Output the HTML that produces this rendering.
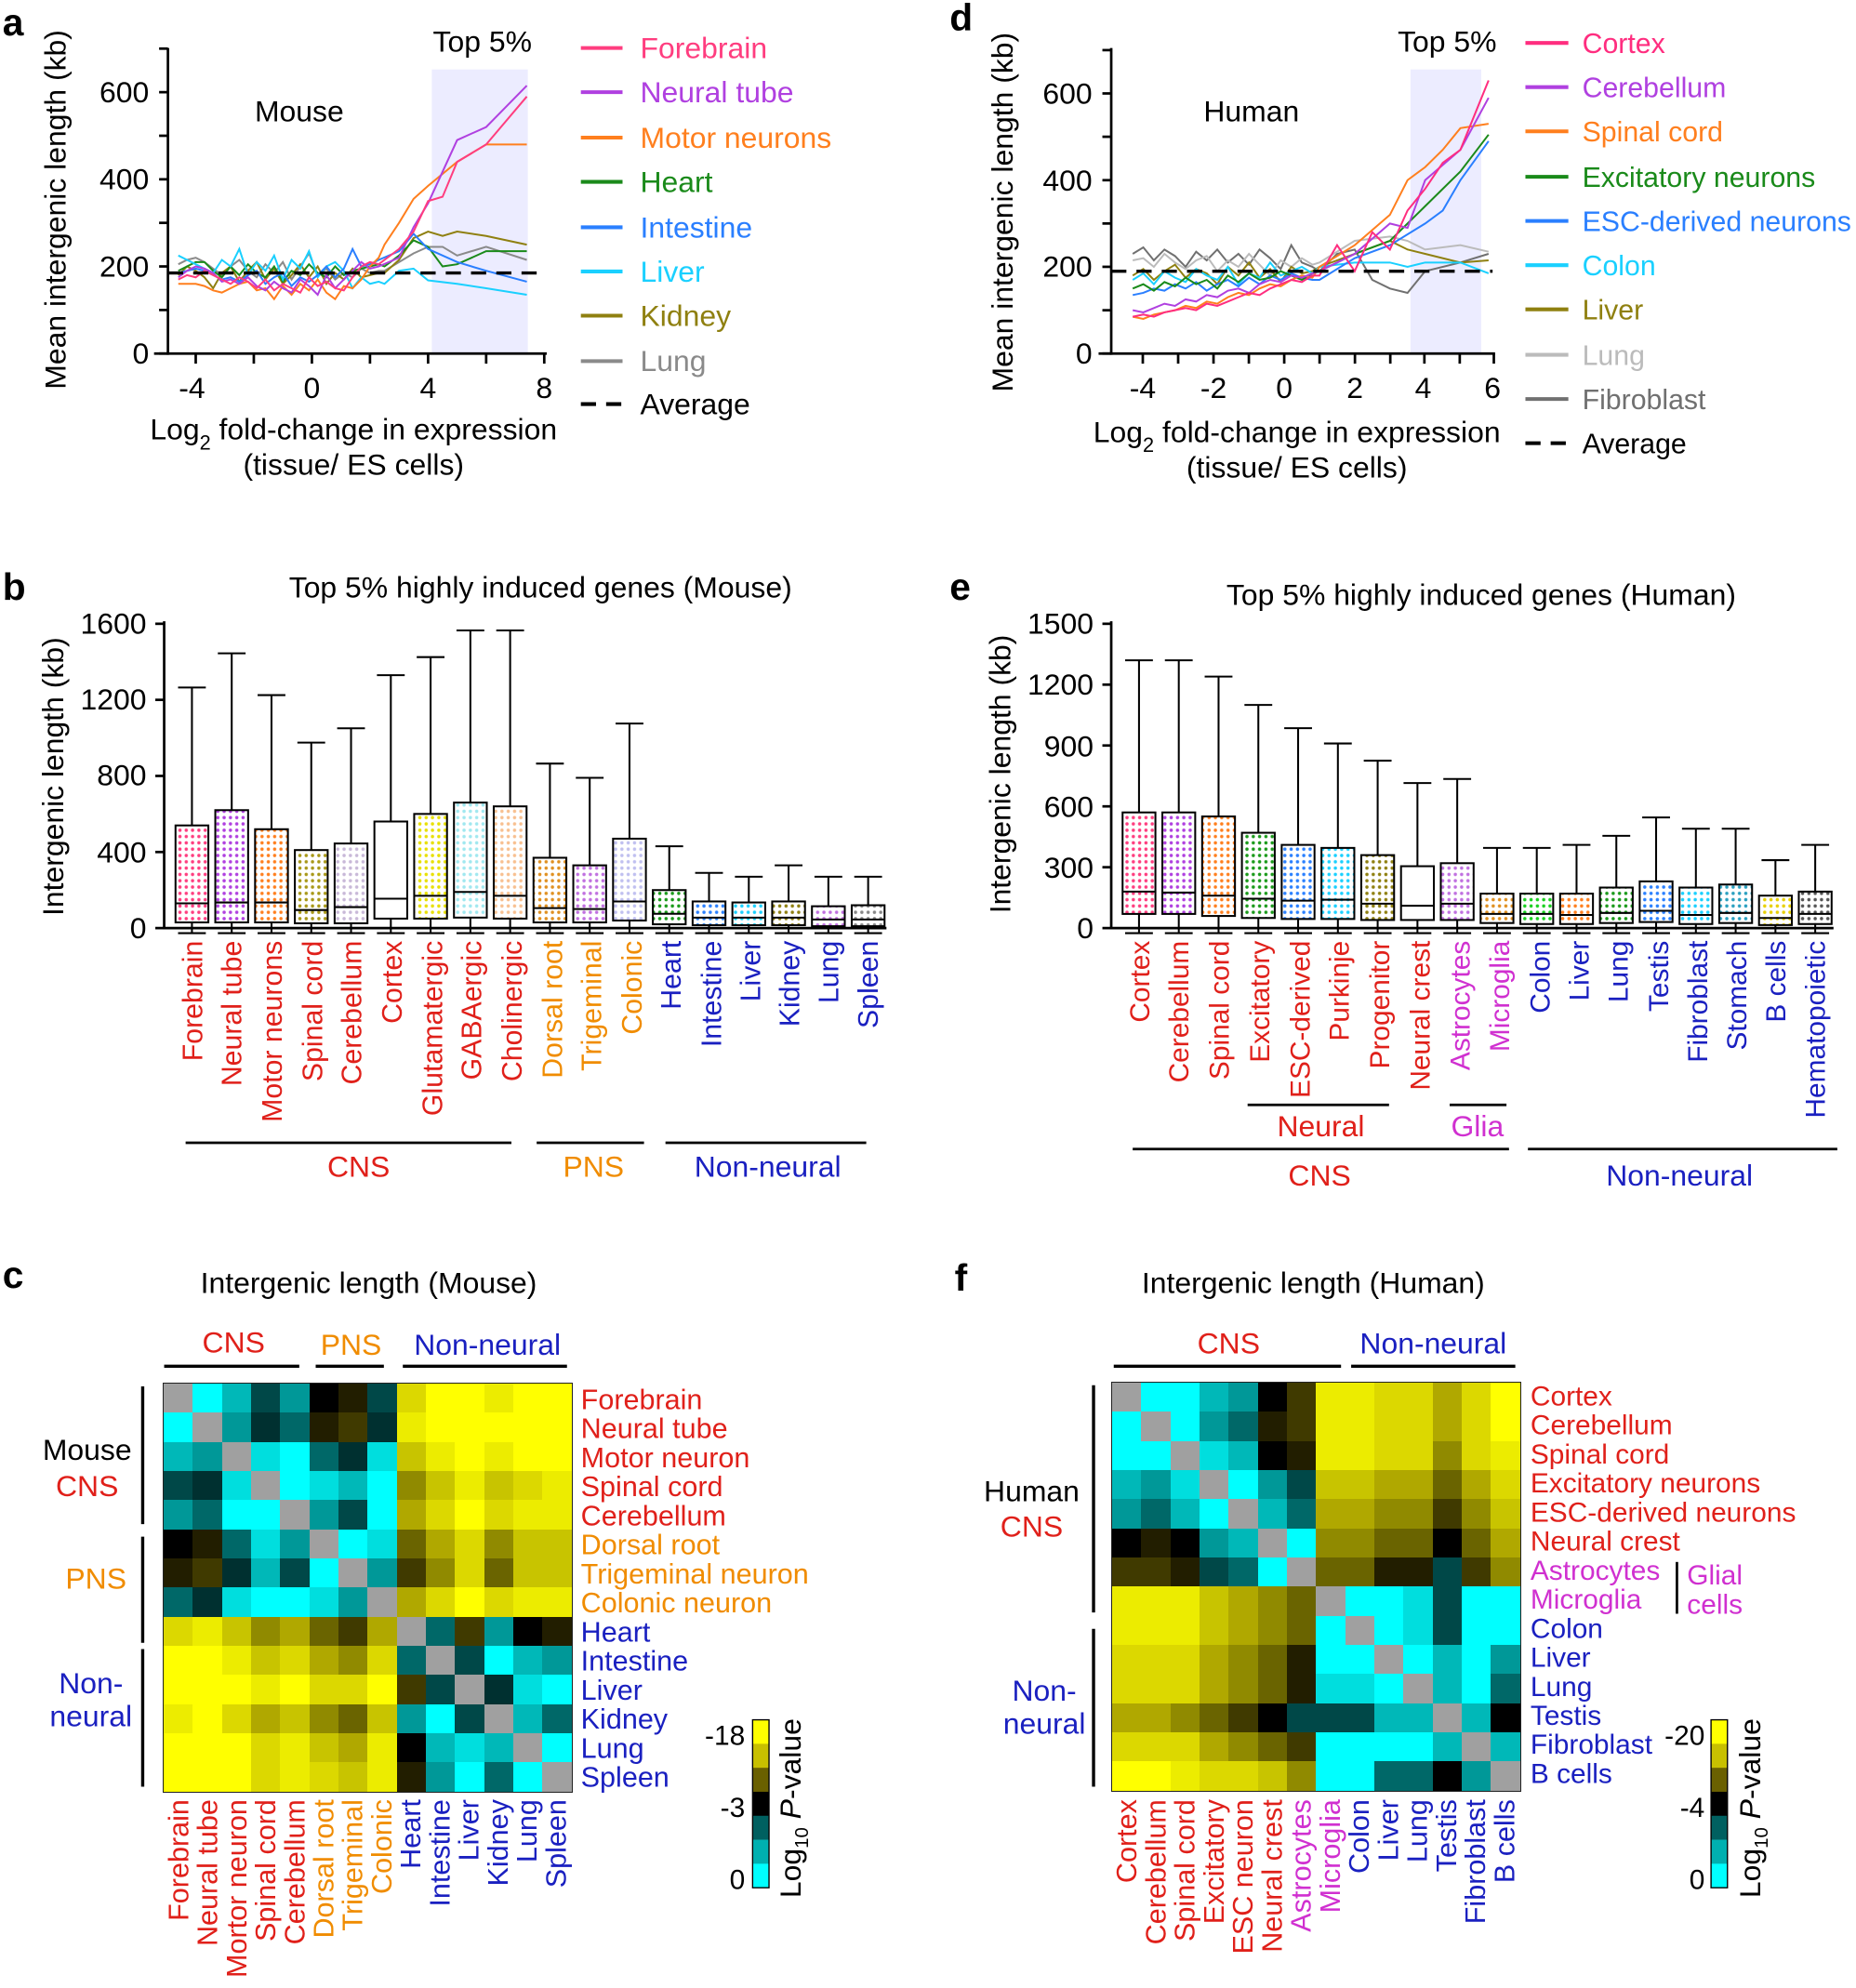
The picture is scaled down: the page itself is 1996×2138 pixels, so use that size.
<!DOCTYPE html>
<html><head><meta charset="utf-8"><style>
html,body{margin:0;padding:0;background:#fff}
body{position:relative;width:1996px;height:2138px;overflow:hidden}
svg{display:block;position:absolute;left:0;top:0}
text{font-family:"Liberation Sans",Arial,sans-serif}
.hm{position:absolute;display:grid;grid-template-columns:repeat(14,31.33px);grid-auto-rows:31.33px;outline:1.5px solid #222}
.hm b{display:block}
.c{background:#00ffff}.p{background:#00dede}.q{background:#00b8b8}.r{background:#009898}.s{background:#006868}.t{background:#004848}.u{background:#003030}.k{background:#000}.v{background:#221e00}.w{background:#403a00}.x{background:#6a6400}.A{background:#908a00}.B{background:#b0a800}.C{background:#c8c400}.D{background:#dcd800}.E{background:#ecec00}.Y{background:#ffff00}.g{background:#a0a0a0}
</style></head><body>
<svg xmlns="http://www.w3.org/2000/svg" width="1996" height="2138" viewBox="0 0 1469.8 1574.4" preserveAspectRatio="none">
<defs>
<pattern id="P1" width="5" height="5" patternUnits="userSpaceOnUse"><rect width="5" height="5" fill="#fff"/><circle cx="2.5" cy="2.5" r="1.3" fill="#ff3d7f"/></pattern>
<pattern id="P2" width="5" height="5" patternUnits="userSpaceOnUse"><rect width="5" height="5" fill="#fff"/><circle cx="2.5" cy="2.5" r="1.3" fill="#b040e0"/></pattern>
<pattern id="P3" width="5" height="5" patternUnits="userSpaceOnUse"><rect width="5" height="5" fill="#fff"/><circle cx="2.5" cy="2.5" r="1.3" fill="#ff7f1e"/></pattern>
<pattern id="P4" width="5" height="5" patternUnits="userSpaceOnUse"><rect width="5" height="5" fill="#fff"/><circle cx="2.5" cy="2.5" r="1.3" fill="#a89818"/></pattern>
<pattern id="P5" width="5" height="5" patternUnits="userSpaceOnUse"><rect width="5" height="5" fill="#fff"/><circle cx="2.5" cy="2.5" r="1.3" fill="#c8b8d8"/></pattern>
<pattern id="P7" width="5" height="5" patternUnits="userSpaceOnUse"><rect width="5" height="5" fill="#fff"/><circle cx="2.5" cy="2.5" r="1.3" fill="#e8e000"/></pattern>
<pattern id="P8" width="5" height="5" patternUnits="userSpaceOnUse"><rect width="5" height="5" fill="#fff"/><circle cx="2.5" cy="2.5" r="1.3" fill="#a0e8f0"/></pattern>
<pattern id="P9" width="5" height="5" patternUnits="userSpaceOnUse"><rect width="5" height="5" fill="#fff"/><circle cx="2.5" cy="2.5" r="1.3" fill="#f8c090"/></pattern>
<pattern id="P10" width="5" height="5" patternUnits="userSpaceOnUse"><rect width="5" height="5" fill="#fff"/><circle cx="2.5" cy="2.5" r="1.3" fill="#e09020"/></pattern>
<pattern id="P11" width="5" height="5" patternUnits="userSpaceOnUse"><rect width="5" height="5" fill="#fff"/><circle cx="2.5" cy="2.5" r="1.3" fill="#c070e0"/></pattern>
<pattern id="P12" width="5" height="5" patternUnits="userSpaceOnUse"><rect width="5" height="5" fill="#fff"/><circle cx="2.5" cy="2.5" r="1.3" fill="#c0c0f0"/></pattern>
<pattern id="P13" width="5" height="5" patternUnits="userSpaceOnUse"><rect width="5" height="5" fill="#fff"/><circle cx="2.5" cy="2.5" r="1.3" fill="#1a9a1a"/></pattern>
<pattern id="P14" width="5" height="5" patternUnits="userSpaceOnUse"><rect width="5" height="5" fill="#fff"/><circle cx="2.5" cy="2.5" r="1.3" fill="#2a80ff"/></pattern>
<pattern id="P15" width="5" height="5" patternUnits="userSpaceOnUse"><rect width="5" height="5" fill="#fff"/><circle cx="2.5" cy="2.5" r="1.3" fill="#1ad0ff"/></pattern>
<pattern id="P16" width="5" height="5" patternUnits="userSpaceOnUse"><rect width="5" height="5" fill="#fff"/><circle cx="2.5" cy="2.5" r="1.3" fill="#8f8010"/></pattern>
<pattern id="P18" width="5" height="5" patternUnits="userSpaceOnUse"><rect width="5" height="5" fill="#fff"/><circle cx="2.5" cy="2.5" r="1.3" fill="#888888"/></pattern>
<pattern id="P19" width="5" height="5" patternUnits="userSpaceOnUse"><rect width="5" height="5" fill="#fff"/><circle cx="2.5" cy="2.5" r="1.3" fill="#1ad020"/></pattern>
<pattern id="P20" width="5" height="5" patternUnits="userSpaceOnUse"><rect width="5" height="5" fill="#fff"/><circle cx="2.5" cy="2.5" r="1.3" fill="#2aa0c0"/></pattern>
<pattern id="P21" width="5" height="5" patternUnits="userSpaceOnUse"><rect width="5" height="5" fill="#fff"/><circle cx="2.5" cy="2.5" r="1.3" fill="#e8d000"/></pattern>
<pattern id="P22" width="5" height="5" patternUnits="userSpaceOnUse"><rect width="5" height="5" fill="#fff"/><circle cx="2.5" cy="2.5" r="1.3" fill="#555555"/></pattern>
</defs>

<rect x="342" y="55" width="76" height="225" fill="#ececff"/>
<rect x="1117" y="55" width="56" height="225" fill="#ececff"/>

<g transform="translate(247,280) scale(23,-0.345)" fill="none" stroke-width="2">
<polyline vector-effect="non-scaling-stroke" stroke="#8a8a8a" points="-4.6,205 -4.3,215 -4,220 -3.7,210 -3.4,195 -3.1,180 -2.8,200 -2.5,215 -2.2,190 -1.9,175 -1.6,205 -1.3,185 -1,210 -0.7,170 -0.4,200 -0.1,230 0.2,180 0.5,195 0.8,170 1.1,185 1.4,175 1.7,195 2,185 2.3,190 2.5,190 3,210 3.5,230 4,245 4.5,245 5,225 6,245 7.4,215"/>
<polyline vector-effect="non-scaling-stroke" stroke="#8f8010" points="-4.6,180 -4.3,200 -4,190 -3.7,175 -3.4,150 -3.1,185 -2.8,200 -2.5,165 -2.2,190 -1.9,210 -1.6,170 -1.3,195 -1,160 -0.7,180 -0.4,205 -0.1,175 0.2,200 0.5,160 0.8,185 1.1,170 1.4,195 1.7,175 2,180 2.3,185 2.5,185 3,215 3.5,265 4,280 4.5,270 5,280 6,270 7.4,250"/>
<polyline vector-effect="non-scaling-stroke" stroke="#1a8a1a" points="-4.6,190 -4.3,200 -4,210 -3.7,210 -3.4,190 -3.1,175 -2.8,200 -2.5,180 -2.2,205 -1.9,185 -1.6,175 -1.3,200 -1,165 -0.7,190 -0.4,180 -0.1,205 0.2,185 0.5,175 0.8,200 1.1,180 1.4,190 1.7,195 2,200 2.3,205 2.5,200 3,225 3.5,260 4,245 4.5,200 5,205 6,235 7.4,235"/>
<polyline vector-effect="non-scaling-stroke" stroke="#1ad0ff" points="-4.6,225 -4.3,215 -4,205 -3.7,195 -3.4,185 -3.1,215 -2.8,200 -2.5,240 -2.2,180 -1.9,210 -1.6,190 -1.3,225 -1,170 -0.7,215 -0.4,195 -0.1,235 0.2,175 0.5,200 0.8,210 1.1,190 1.4,150 1.7,175 2,160 2.3,165 2.5,160 3,190 3.5,195 4,168 5,160 6,150 7.4,135"/>
<polyline vector-effect="non-scaling-stroke" stroke="#2a7fff" points="-4.6,185 -4.3,190 -4,195 -3.7,190 -3.4,180 -3.1,170 -2.8,175 -2.5,165 -2.2,180 -1.9,190 -1.6,160 -1.3,175 -1,185 -0.7,155 -0.4,175 -0.1,165 0.2,180 0.5,200 0.8,175 1.1,195 1.4,240 1.7,200 2,205 2.3,215 3,235 3.5,275 4,240 5,210 6,190 7.4,165"/>
<polyline vector-effect="non-scaling-stroke" stroke="#ff7f1e" points="-4.6,160 -4.3,160 -4,160 -3.7,155 -3.4,145 -3.1,140 -2.8,150 -2.5,160 -2.2,165 -1.9,145 -1.6,150 -1.3,125 -1,155 -0.7,135 -0.4,160 -0.1,145 0.2,170 0.5,140 0.8,125 1.1,155 1.4,150 1.7,170 2,200 2.3,220 2.5,250 3,300 3.5,355 4,385 5,440 6,480 7.4,480"/>
<polyline vector-effect="non-scaling-stroke" stroke="#b040e0" points="-4.6,175 -4.3,190 -4,200 -3.7,195 -3.4,185 -3.1,165 -2.8,170 -2.5,160 -2.2,175 -1.9,155 -1.6,145 -1.3,165 -1,150 -0.7,140 -0.4,170 -0.1,155 0.2,135 0.5,180 0.8,150 1.1,170 1.4,190 1.7,210 2,195 2.3,200 3,220 3.5,290 4,345 5,490 6,520 7.4,615"/>
<polyline vector-effect="non-scaling-stroke" stroke="#ff3d7f" points="-4.6,170 -4.3,180 -4,175 -3.7,190 -3.4,180 -3.1,170 -2.8,160 -2.5,175 -2.2,165 -1.9,150 -1.6,170 -1.3,145 -1,160 -0.7,150 -0.4,140 -0.1,175 0.2,155 0.5,165 0.8,150 1.1,145 1.4,175 1.7,200 2,210 2.3,205 3,240 3.5,280 4,350 4.5,360 5,440 6,480 7.4,590"/>
</g>
<line x1="133" y1="216.2" x2="433" y2="216.2" stroke="#000" stroke-width="2.5" stroke-dasharray="12,8"/>

<g transform="translate(1017,280) scale(27.9,-0.3433)" fill="none" stroke-width="2">
<polyline vector-effect="non-scaling-stroke" stroke="#707070" points="-4.3,230 -4,245 -3.7,215 -3.4,240 -3.1,225 -2.8,200 -2.5,235 -2.2,215 -1.9,240 -1.6,210 -1.3,230 -1,205 -0.7,240 -0.4,220 -0.1,195 0.2,250 0.5,210 0.8,200 1,190 1.5,230 2,240 2.5,170 3,150 3.5,140 4,190 5,210 5.8,230"/>
<polyline vector-effect="non-scaling-stroke" stroke="#bbbbbb" points="-4.3,215 -4,220 -3.7,200 -3.4,230 -3.1,210 -2.8,195 -2.5,215 -2.2,225 -1.9,190 -1.6,215 -1.3,200 -1,230 -0.7,205 -0.4,180 -0.1,215 0.2,200 0.5,220 0.8,205 1,210 2,260 3,270 3.5,260 4,240 5,250 5.8,235"/>
<polyline vector-effect="non-scaling-stroke" stroke="#8f8010" points="-4.3,180 -4,195 -3.7,170 -3.4,190 -3.1,205 -2.8,175 -2.5,195 -2.2,185 -1.9,160 -1.6,200 -1.3,180 -1,210 -0.7,175 -0.4,195 -0.1,165 0.2,200 0.5,185 0.8,190 1,200 2,230 3,260 3.5,240 4,230 5,210 5.8,215"/>
<polyline vector-effect="non-scaling-stroke" stroke="#1ad0ff" points="-4.3,170 -4,185 -3.7,160 -3.4,190 -3.1,175 -2.8,165 -2.5,195 -2.2,180 -1.9,170 -1.6,200 -1.3,160 -1,185 -0.7,175 -0.4,210 -0.1,180 0.2,190 0.5,200 0.8,185 1,200 2,210 3,210 3.5,200 4,210 5,210 5.8,185"/>
<polyline vector-effect="non-scaling-stroke" stroke="#2a7fff" points="-4.3,135 -4,140 -3.7,150 -3.4,145 -3.1,160 -2.8,150 -2.5,165 -2.2,145 -1.9,160 -1.6,170 -1.3,155 -1,175 -0.7,160 -0.4,180 -0.1,170 0.2,185 0.5,175 0.8,170 1,170 2,220 3,250 4,300 4.5,330 5,400 5.8,490"/>
<polyline vector-effect="non-scaling-stroke" stroke="#1a8a1a" points="-4.3,150 -4,160 -3.7,145 -3.4,165 -3.1,155 -2.8,175 -2.5,160 -2.2,170 -1.9,150 -1.6,180 -1.3,165 -1,185 -0.7,170 -0.4,175 -0.1,190 0.2,180 0.5,170 0.8,185 1,190 2,230 3,260 3.5,300 4,340 5,420 5.8,505"/>
<polyline vector-effect="non-scaling-stroke" stroke="#ff7f1e" points="-4.3,85 -4,80 -3.7,90 -3.4,95 -3.1,100 -2.8,110 -2.5,105 -2.2,120 -1.9,115 -1.6,130 -1.3,140 -1,135 -0.7,150 -0.4,160 -0.1,155 0.2,170 0.5,180 0.8,175 1,200 2,250 3,320 3.5,400 4,430 4.5,470 5,520 5.8,530"/>
<polyline vector-effect="non-scaling-stroke" stroke="#b040e0" points="-4.3,100 -4,95 -3.7,105 -3.4,115 -3.1,110 -2.8,125 -2.5,120 -2.2,135 -1.9,130 -1.6,145 -1.3,150 -1,140 -0.7,160 -0.4,170 -0.1,165 0.2,180 0.5,175 0.8,185 1,190 2,230 3,300 3.5,290 4,400 5,470 5.8,590"/>
<polyline vector-effect="non-scaling-stroke" stroke="#ff2d7f" points="-4.3,85 -4,90 -3.7,85 -3.4,95 -3.1,100 -2.8,105 -2.5,100 -2.2,115 -1.9,110 -1.6,120 -1.3,130 -1,140 -0.7,135 -0.4,150 -0.1,160 0.2,170 0.5,165 0.8,180 1,180 1.5,250 2,190 2.5,280 3,240 3.5,330 4,380 4.5,440 5,470 5.8,630"/>
</g>
<line x1="880" y1="214.8" x2="1182" y2="214.8" stroke="#000" stroke-width="2.5" stroke-dasharray="12,8"/>

<g stroke="#000" stroke-width="1.5">
<rect x="139" y="653.7" width="26" height="76.8" fill="url(#P1)"/><path d="M152 544.5V653.7M141 544.5H163M152 730.5V739M141 739H163M139 715.4H165"/>
<rect x="170.5" y="641.6" width="26" height="88.9" fill="url(#P2)"/><path d="M183.5 517.4V641.6M172.5 517.4H194.5M183.5 730.5V739M172.5 739H194.5M170.5 714.7H196.5"/>
<rect x="202" y="656.7" width="26" height="73.8" fill="url(#P3)"/><path d="M215 550.5V656.7M204 550.5H226M215 730.5V739M204 739H226M202 714.7H228"/>
<rect x="233.5" y="673.2" width="26" height="58" fill="url(#P4)"/><path d="M246.5 588.1V673.2M235.5 588.1H257.5M246.5 731.2V739M235.5 739H257.5M233.5 720.7H259.5"/>
<rect x="265" y="668" width="26" height="63.2" fill="url(#P5)"/><path d="M278 576.8V668M267 576.8H289M278 731.2V739M267 739H289M265 718.4H291"/>
<rect x="296.5" y="650.6" width="26" height="76.9" fill="#fff"/><path d="M309.5 534.7V650.6M298.5 534.7H320.5M309.5 727.5V739M298.5 739H320.5M296.5 711.7H322.5"/>
<rect x="328" y="644.6" width="26" height="82.9" fill="url(#P7)"/><path d="M341 520.4V644.6M330 520.4H352M341 727.5V739M330 739H352M328 709.4H354"/>
<rect x="359.5" y="635.6" width="26" height="91.1" fill="url(#P8)"/><path d="M372.5 499.3V635.6M361.5 499.3H383.5M372.5 726.7V739M361.5 739H383.5M359.5 706.4H385.5"/>
<rect x="391" y="638.6" width="26" height="88.9" fill="url(#P9)"/><path d="M404 499.3V638.6M393 499.3H415M404 727.5V739M393 739H415M391 709.4H417"/>
<rect x="422.5" y="679.3" width="26" height="51.2" fill="url(#P10)"/><path d="M435.5 604.7V679.3M424.5 604.7H446.5M435.5 730.5V739M424.5 739H446.5M422.5 719.2H448.5"/>
<rect x="454" y="685.3" width="26" height="45.2" fill="url(#P11)"/><path d="M467 616V685.3M456 616H478M467 730.5V739M456 739H478M454 719.9H480"/>
<rect x="485.5" y="664.2" width="26" height="64.8" fill="url(#P12)"/><path d="M498.5 573V664.2M487.5 573H509.5M498.5 729V739M487.5 739H509.5M485.5 713.9H511.5"/>
<rect x="517" y="704.9" width="26" height="27.1" fill="url(#P13)"/><path d="M530 670.2V704.9M519 670.2H541M530 732V739M519 739H541M517 723.7H543"/>
<rect x="548.5" y="713.9" width="26" height="18.8" fill="url(#P14)"/><path d="M561.5 691.3V713.9M550.5 691.3H572.5M561.5 732.7V739M550.5 739H572.5M548.5 726.7H574.5"/>
<rect x="580" y="714.7" width="26" height="18" fill="url(#P15)"/><path d="M593 694.3V714.7M582 694.3H604M593 732.7V739M582 739H604M580 726.7H606"/>
<rect x="611.5" y="713.9" width="26" height="18.8" fill="url(#P16)"/><path d="M624.5 685.3V713.9M613.5 685.3H635.5M624.5 732.7V739M613.5 739H635.5M611.5 726.7H637.5"/>
<rect x="643" y="717.7" width="26" height="15.8" fill="url(#P11)"/><path d="M656 694.3V717.7M645 694.3H667M656 733.5V739M645 739H667M643 728.2H669"/>
<rect x="674.5" y="716.9" width="26" height="16.6" fill="url(#P18)"/><path d="M687.5 694.3V716.9M676.5 694.3H698.5M687.5 733.5V739M676.5 739H698.5M674.5 728.2H700.5"/>
</g>
<g stroke="#000" stroke-width="1.5">
<rect x="889" y="643.4" width="26" height="80.4" fill="url(#P1)"/><path d="M902 522.9V643.4M891 522.9H913M902 723.8V739M891 739H913M889 706.1H915"/>
<rect x="920.5" y="643.4" width="26" height="80.4" fill="url(#P2)"/><path d="M933.5 522.9V643.4M922.5 522.9H944.5M933.5 723.8V739M922.5 739H944.5M920.5 706.9H946.5"/>
<rect x="952" y="646.6" width="26" height="78.8" fill="url(#P3)"/><path d="M965 535.8V646.6M954 535.8H976M965 725.4V739M954 739H976M952 709.3H978"/>
<rect x="983.5" y="659.5" width="26" height="67.5" fill="url(#P13)"/><path d="M996.5 558.3V659.5M985.5 558.3H1007.5M996.5 727V739M985.5 739H1007.5M983.5 711.7H1009.5"/>
<rect x="1015" y="669.1" width="26" height="58.7" fill="url(#P14)"/><path d="M1028 576.7V669.1M1017 576.7H1039M1028 727.8V739M1017 739H1039M1015 713.3H1041"/>
<rect x="1046.5" y="671.5" width="26" height="56.3" fill="url(#P15)"/><path d="M1059.5 588.8V671.5M1048.5 588.8H1070.5M1059.5 727.8V739M1048.5 739H1070.5M1046.5 712.5H1072.5"/>
<rect x="1078" y="677.2" width="26" height="51.4" fill="url(#P16)"/><path d="M1091 602.4V677.2M1080 602.4H1102M1091 728.6V739M1080 739H1102M1078 715.7H1104"/>
<rect x="1109.5" y="686" width="26" height="42.6" fill="#fff"/><path d="M1122.5 620.1V686M1111.5 620.1H1133.5M1122.5 728.6V739M1111.5 739H1133.5M1109.5 717.3H1135.5"/>
<rect x="1141" y="683.6" width="26" height="45" fill="url(#P11)"/><path d="M1154 616.9V683.6M1143 616.9H1165M1154 728.6V739M1143 739H1165M1141 715.7H1167"/>
<rect x="1172.5" y="707.7" width="26" height="23.3" fill="url(#P10)"/><path d="M1185.5 671.5V707.7M1174.5 671.5H1196.5M1185.5 731V739M1174.5 739H1196.5M1172.5 723.8H1198.5"/>
<rect x="1204" y="707.7" width="26" height="24.1" fill="url(#P19)"/><path d="M1217 671.5V707.7M1206 671.5H1228M1217 731.8V739M1206 739H1228M1204 723.8H1230"/>
<rect x="1235.5" y="707.7" width="26" height="24.1" fill="url(#P3)"/><path d="M1248.5 669.1V707.7M1237.5 669.1H1259.5M1248.5 731.8V739M1237.5 739H1259.5M1235.5 724.6H1261.5"/>
<rect x="1267" y="702.9" width="26" height="28.1" fill="url(#P13)"/><path d="M1280 661.9V702.9M1269 661.9H1291M1280 731V739M1269 739H1291M1267 723H1293"/>
<rect x="1298.5" y="698" width="26" height="32.2" fill="url(#P14)"/><path d="M1311.5 647.4V698M1300.5 647.4H1322.5M1311.5 730.2V739M1300.5 739H1322.5M1298.5 721.3H1324.5"/>
<rect x="1330" y="702.9" width="26" height="28.9" fill="url(#P15)"/><path d="M1343 656.3V702.9M1332 656.3H1354M1343 731.8V739M1332 739H1354M1330 724.6H1356"/>
<rect x="1361.5" y="700.5" width="26" height="30.5" fill="url(#P20)"/><path d="M1374.5 656.3V700.5M1363.5 656.3H1385.5M1374.5 731V739M1363.5 739H1385.5M1361.5 723H1387.5"/>
<rect x="1393" y="709.3" width="26" height="23.3" fill="url(#P21)"/><path d="M1406 681.2V709.3M1395 681.2H1417M1406 732.6V739M1395 739H1417M1393 727H1419"/>
<rect x="1424.5" y="706.1" width="26" height="25.7" fill="url(#P22)"/><path d="M1437.5 669.1V706.1M1426.5 669.1H1448.5M1437.5 731.8V739M1426.5 739H1448.5M1424.5 723.8H1450.5"/>
</g>

<g>
<rect x="596" y="1362" width="13" height="19.2" fill="#ffff00"/><rect x="596" y="1381" width="13" height="19.2" fill="#c8c000"/><rect x="596" y="1400" width="13" height="19.2" fill="#6a6000"/><rect x="596" y="1419" width="13" height="19.2" fill="#000"/><rect x="596" y="1438" width="13" height="19.2" fill="#006060"/><rect x="596" y="1457" width="13" height="19.2" fill="#00b0b0"/><rect x="596" y="1476" width="13" height="19" fill="#00ffff"/>
<rect x="596" y="1362" width="13" height="133" fill="none" stroke="#000"/>
<rect x="1355" y="1362" width="13" height="19.2" fill="#ffff00"/><rect x="1355" y="1381" width="13" height="19.2" fill="#c8c000"/><rect x="1355" y="1400" width="13" height="19.2" fill="#6a6000"/><rect x="1355" y="1419" width="13" height="19.2" fill="#000"/><rect x="1355" y="1438" width="13" height="19.2" fill="#006060"/><rect x="1355" y="1457" width="13" height="19.2" fill="#00b0b0"/><rect x="1355" y="1476" width="13" height="19" fill="#00ffff"/>
<rect x="1355" y="1362" width="13" height="133" fill="none" stroke="#000"/>
</g>

<g font-size="23.5" fill="#000">
<text x="2" y="28" font-size="30" font-weight="bold">a</text>
<text x="752" y="24" font-size="30" font-weight="bold">d</text>
<text x="2" y="475" font-size="30" font-weight="bold">b</text>
<text x="752" y="475" font-size="30" font-weight="bold">e</text>
<text x="2" y="1020" font-size="30" font-weight="bold">c</text>
<text x="756" y="1022" font-size="30" font-weight="bold">f</text>

<g stroke="#000" stroke-width="2" fill="none">
<line x1="133" y1="38" x2="133" y2="281"/>
<line x1="122" y1="280" x2="433" y2="280"/>
<line x1="126" y1="280" x2="133" y2="280"/><line x1="126" y1="245.5" x2="133" y2="245.5"/><line x1="126" y1="211" x2="133" y2="211"/><line x1="126" y1="176.5" x2="133" y2="176.5"/><line x1="126" y1="142" x2="133" y2="142"/><line x1="126" y1="107.5" x2="133" y2="107.5"/><line x1="126" y1="73" x2="133" y2="73"/><line x1="126" y1="38.5" x2="133" y2="38.5"/>
<line x1="155" y1="280" x2="155" y2="288"/><line x1="201" y1="280" x2="201" y2="288"/><line x1="247" y1="280" x2="247" y2="288"/><line x1="293" y1="280" x2="293" y2="288"/><line x1="339" y1="280" x2="339" y2="288"/><line x1="385" y1="280" x2="385" y2="288"/><line x1="431" y1="280" x2="431" y2="288"/>
</g>
<text x="118" y="288" text-anchor="end">0</text>
<text x="118" y="219" text-anchor="end">200</text>
<text x="118" y="150" text-anchor="end">400</text>
<text x="118" y="81" text-anchor="end">600</text>
<text x="152" y="315" text-anchor="middle">-4</text>
<text x="247" y="315" text-anchor="middle">0</text>
<text x="339" y="315" text-anchor="middle">4</text>
<text x="431" y="315" text-anchor="middle">8</text>
<text transform="translate(52,166) rotate(-90)" text-anchor="middle">Mean intergenic length (kb)</text>
<text x="237" y="96" text-anchor="middle">Mouse</text>
<text x="382" y="41" text-anchor="middle">Top 5%</text>
<text x="280" y="348" text-anchor="middle">Log<tspan font-size="16" dy="8">2</tspan><tspan dy="-8"> fold-change in expression</tspan></text>
<text x="280" y="376" text-anchor="middle">(tissue/ ES cells)</text>

<g stroke-width="3">
<line x1="460" y1="38" x2="493" y2="38" stroke="#ff3d7f"/>
<line x1="460" y1="73" x2="493" y2="73" stroke="#b040e0"/>
<line x1="460" y1="109" x2="493" y2="109" stroke="#ff7f1e"/>
<line x1="460" y1="144" x2="493" y2="144" stroke="#1a8a1a"/>
<line x1="460" y1="180" x2="493" y2="180" stroke="#2a7fff"/>
<line x1="460" y1="215" x2="493" y2="215" stroke="#1ad0ff"/>
<line x1="460" y1="250" x2="493" y2="250" stroke="#8f8010"/>
<line x1="460" y1="286" x2="493" y2="286" stroke="#8a8a8a"/>
<line x1="460" y1="320" x2="495" y2="320" stroke="#000" stroke-dasharray="12,8"/>
</g>
<text x="507" y="46" fill="#ff3d7f">Forebrain</text>
<text x="507" y="81" fill="#b040e0">Neural tube</text>
<text x="507" y="117" fill="#ff7f1e">Motor neurons</text>
<text x="507" y="152" fill="#1a8a1a">Heart</text>
<text x="507" y="188" fill="#2a7fff">Intestine</text>
<text x="507" y="223" fill="#1ad0ff">Liver</text>
<text x="507" y="258" fill="#8f8010">Kidney</text>
<text x="507" y="294" fill="#8a8a8a">Lung</text>
<text x="507" y="328">Average</text>

<g stroke="#000" stroke-width="2" fill="none">
<line x1="880" y1="38" x2="880" y2="281"/>
<line x1="870" y1="280" x2="1184" y2="280"/>
<line x1="873" y1="280" x2="880" y2="280"/><line x1="873" y1="245.7" x2="880" y2="245.7"/><line x1="873" y1="211.3" x2="880" y2="211.3"/><line x1="873" y1="177" x2="880" y2="177"/><line x1="873" y1="142.7" x2="880" y2="142.7"/><line x1="873" y1="108.3" x2="880" y2="108.3"/><line x1="873" y1="74" x2="880" y2="74"/><line x1="873" y1="39.7" x2="880" y2="39.7"/>
<line x1="905" y1="280" x2="905" y2="288"/><line x1="933" y1="280" x2="933" y2="288"/><line x1="961" y1="280" x2="961" y2="288"/><line x1="989" y1="280" x2="989" y2="288"/><line x1="1017" y1="280" x2="1017" y2="288"/><line x1="1045" y1="280" x2="1045" y2="288"/><line x1="1073" y1="280" x2="1073" y2="288"/><line x1="1101" y1="280" x2="1101" y2="288"/><line x1="1128" y1="280" x2="1128" y2="288"/><line x1="1156" y1="280" x2="1156" y2="288"/><line x1="1183" y1="280" x2="1183" y2="288"/>
</g>
<text x="865" y="288" text-anchor="end">0</text>
<text x="865" y="219" text-anchor="end">200</text>
<text x="865" y="151" text-anchor="end">400</text>
<text x="865" y="82" text-anchor="end">600</text>
<text x="905" y="315" text-anchor="middle">-4</text>
<text x="961" y="315" text-anchor="middle">-2</text>
<text x="1017" y="315" text-anchor="middle">0</text>
<text x="1073" y="315" text-anchor="middle">2</text>
<text x="1127" y="315" text-anchor="middle">4</text>
<text x="1182" y="315" text-anchor="middle">6</text>
<text transform="translate(802,168) rotate(-90)" text-anchor="middle">Mean intergenic length (kb)</text>
<text x="991" y="96" text-anchor="middle">Human</text>
<text x="1146" y="41" text-anchor="middle">Top 5%</text>
<text x="1027" y="350" text-anchor="middle">Log<tspan font-size="16" dy="8">2</tspan><tspan dy="-8"> fold-change in expression</tspan></text>
<text x="1027" y="378" text-anchor="middle">(tissue/ ES cells)</text>

<g stroke-width="3">
<line x1="1208" y1="34" x2="1242" y2="34" stroke="#ff2d7f"/>
<line x1="1208" y1="69" x2="1242" y2="69" stroke="#b040e0"/>
<line x1="1208" y1="104" x2="1242" y2="104" stroke="#ff7f1e"/>
<line x1="1208" y1="140" x2="1242" y2="140" stroke="#1a8a1a"/>
<line x1="1208" y1="175" x2="1242" y2="175" stroke="#2a7fff"/>
<line x1="1208" y1="210" x2="1242" y2="210" stroke="#1ad0ff"/>
<line x1="1208" y1="245" x2="1242" y2="245" stroke="#8f8010"/>
<line x1="1208" y1="281" x2="1242" y2="281" stroke="#bbbbbb"/>
<line x1="1208" y1="316" x2="1242" y2="316" stroke="#707070"/>
<line x1="1208" y1="351" x2="1244" y2="351" stroke="#000" stroke-dasharray="12,8"/>
</g>
<g font-size="22.3">
<text x="1253" y="42" fill="#ff2d7f">Cortex</text>
<text x="1253" y="77" fill="#b040e0">Cerebellum</text>
<text x="1253" y="112" fill="#ff7f1e">Spinal cord</text>
<text x="1253" y="148" fill="#1a8a1a">Excitatory neurons</text>
<text x="1253" y="183" fill="#2a7fff">ESC-derived neurons</text>
<text x="1253" y="218" fill="#1ad0ff">Colon</text>
<text x="1253" y="253" fill="#8f8010">Liver</text>
<text x="1253" y="289" fill="#bbbbbb">Lung</text>
<text x="1253" y="324" fill="#707070">Fibroblast</text>
<text x="1253" y="359">Average</text>
</g>

<text x="428" y="473" text-anchor="middle">Top 5% highly induced genes (Mouse)</text>
<g stroke="#000" stroke-width="2">
<line x1="130" y1="492" x2="130" y2="736"/>
<line x1="130" y1="735" x2="702" y2="735"/>
<line x1="123" y1="735" x2="130" y2="735"/><line x1="123" y1="674.75" x2="130" y2="674.75"/><line x1="123" y1="614.5" x2="130" y2="614.5"/><line x1="123" y1="554.25" x2="130" y2="554.25"/><line x1="123" y1="494" x2="130" y2="494"/>
</g>
<text x="116" y="743" text-anchor="end">0</text>
<text x="116" y="683" text-anchor="end">400</text>
<text x="116" y="622" text-anchor="end">800</text>
<text x="116" y="562" text-anchor="end">1200</text>
<text x="116" y="502" text-anchor="end">1600</text>
<text transform="translate(50,615) rotate(-90)" text-anchor="middle">Intergenic length (kb)</text>
<g font-size="22.3" text-anchor="end">
<text transform="translate(160,745) rotate(-90)" fill="#e0201a">Forebrain</text>
<text transform="translate(191,745) rotate(-90)" fill="#e0201a">Neural tube</text>
<text transform="translate(223,745) rotate(-90)" fill="#e0201a">Motor neurons</text>
<text transform="translate(255,745) rotate(-90)" fill="#e0201a">Spinal cord</text>
<text transform="translate(286,745) rotate(-90)" fill="#e0201a">Cerebellum</text>
<text transform="translate(318,745) rotate(-90)" fill="#e0201a">Cortex</text>
<text transform="translate(350,745) rotate(-90)" fill="#e0201a">Glutamatergic</text>
<text transform="translate(381,745) rotate(-90)" fill="#e0201a">GABAergic</text>
<text transform="translate(413,745) rotate(-90)" fill="#e0201a">Cholinergic</text>
<text transform="translate(445,745) rotate(-90)" fill="#f08c00">Dorsal root</text>
<text transform="translate(476,745) rotate(-90)" fill="#f08c00">Trigeminal</text>
<text transform="translate(508,745) rotate(-90)" fill="#f08c00">Colonic</text>
<text transform="translate(539,745) rotate(-90)" fill="#1a20c0">Heart</text>
<text transform="translate(571,745) rotate(-90)" fill="#1a20c0">Intestine</text>
<text transform="translate(602,745) rotate(-90)" fill="#1a20c0">Liver</text>
<text transform="translate(633,745) rotate(-90)" fill="#1a20c0">Kidney</text>
<text transform="translate(664,745) rotate(-90)" fill="#1a20c0">Lung</text>
<text transform="translate(695,745) rotate(-90)" fill="#1a20c0">Spleen</text>
</g>
<g stroke="#000" stroke-width="2">
<line x1="147" y1="905" x2="405" y2="905"/>
<line x1="425" y1="905" x2="510" y2="905"/>
<line x1="527" y1="905" x2="686" y2="905"/>
</g>
<text x="284" y="932" text-anchor="middle" fill="#e0201a">CNS</text>
<text x="470" y="932" text-anchor="middle" fill="#f08c00">PNS</text>
<text x="608" y="932" text-anchor="middle" fill="#1a20c0">Non-neural</text>

<text x="1173" y="479" text-anchor="middle">Top 5% highly induced genes (Human)</text>
<g stroke="#000" stroke-width="2">
<line x1="880" y1="492" x2="880" y2="736"/>
<line x1="880" y1="735" x2="1452" y2="735"/>
<line x1="873" y1="735" x2="880" y2="735"/><line x1="873" y1="686.8" x2="880" y2="686.8"/><line x1="873" y1="638.6" x2="880" y2="638.6"/><line x1="873" y1="590.4" x2="880" y2="590.4"/><line x1="873" y1="542.2" x2="880" y2="542.2"/><line x1="873" y1="494" x2="880" y2="494"/>
</g>
<text x="866" y="743" text-anchor="end">0</text>
<text x="866" y="695" text-anchor="end">300</text>
<text x="866" y="647" text-anchor="end">600</text>
<text x="866" y="599" text-anchor="end">900</text>
<text x="866" y="550" text-anchor="end">1200</text>
<text x="866" y="502" text-anchor="end">1500</text>
<text transform="translate(800,613) rotate(-90)" text-anchor="middle">Intergenic length (kb)</text>
<g font-size="22" text-anchor="end">
<text transform="translate(910,745) rotate(-90)" fill="#e0201a">Cortex</text>
<text transform="translate(941,745) rotate(-90)" fill="#e0201a">Cerebellum</text>
<text transform="translate(973,745) rotate(-90)" fill="#e0201a">Spinal cord</text>
<text transform="translate(1005,745) rotate(-90)" fill="#e0201a">Excitatory</text>
<text transform="translate(1037,745) rotate(-90)" fill="#e0201a">ESC-derived</text>
<text transform="translate(1068,745) rotate(-90)" fill="#e0201a">Purkinje</text>
<text transform="translate(1100,745) rotate(-90)" fill="#e0201a">Progenitor</text>
<text transform="translate(1132,745) rotate(-90)" fill="#e0201a">Neural crest</text>
<text transform="translate(1164,745) rotate(-90)" fill="#d030d0">Astrocytes</text>
<text transform="translate(1195,745) rotate(-90)" fill="#d030d0">Microglia</text>
<text transform="translate(1227,745) rotate(-90)" fill="#1a20c0">Colon</text>
<text transform="translate(1258,745) rotate(-90)" fill="#1a20c0">Liver</text>
<text transform="translate(1289,745) rotate(-90)" fill="#1a20c0">Lung</text>
<text transform="translate(1321,745) rotate(-90)" fill="#1a20c0">Testis</text>
<text transform="translate(1352,745) rotate(-90)" fill="#1a20c0">Fibroblast</text>
<text transform="translate(1383,745) rotate(-90)" fill="#1a20c0">Stomach</text>
<text transform="translate(1414,745) rotate(-90)" fill="#1a20c0">B cells</text>
<text transform="translate(1445,745) rotate(-90)" fill="#1a20c0">Hematopoietic</text>
</g>
<g stroke="#000" stroke-width="2">
<line x1="988" y1="875" x2="1100" y2="875"/>
<line x1="1148" y1="875" x2="1193" y2="875"/>
<line x1="897" y1="910" x2="1195" y2="910"/>
<line x1="1210" y1="910" x2="1455" y2="910"/>
</g>
<text x="1046" y="900" text-anchor="middle" fill="#e0201a">Neural</text>
<text x="1170" y="900" text-anchor="middle" fill="#d030d0">Glia</text>
<text x="1045" y="939" text-anchor="middle" fill="#e0201a">CNS</text>
<text x="1330" y="939" text-anchor="middle" fill="#1a20c0">Non-neural</text>

<text x="292" y="1024" text-anchor="middle">Intergenic length (Mouse)</text>
<text x="185" y="1071" text-anchor="middle" fill="#e0201a">CNS</text>
<text x="278" y="1073" text-anchor="middle" fill="#f08c00">PNS</text>
<text x="386" y="1073" text-anchor="middle" fill="#1a20c0">Non-neural</text>
<g stroke="#000" stroke-width="2.5">
<line x1="130" y1="1082" x2="237" y2="1082"/><line x1="250" y1="1082" x2="304" y2="1082"/><line x1="319" y1="1082" x2="449" y2="1082"/>
<line x1="113" y1="1098" x2="113" y2="1207"/><line x1="113" y1="1217" x2="113" y2="1301"/><line x1="113" y1="1306" x2="113" y2="1415"/>
</g>
<text x="69" y="1156" text-anchor="middle">Mouse</text>
<text x="69" y="1185" text-anchor="middle" fill="#e0201a">CNS</text>
<text x="76" y="1258" text-anchor="middle" fill="#f08c00">PNS</text>
<text x="72" y="1341" text-anchor="middle" fill="#1a20c0">Non-</text>
<text x="72" y="1367" text-anchor="middle" fill="#1a20c0">neural</text>
<g font-size="22.5">
<text x="460" y="1116" fill="#e0201a">Forebrain</text>
<text x="460" y="1139" fill="#e0201a">Neural tube</text>
<text x="460" y="1162" fill="#e0201a">Motor neuron</text>
<text x="460" y="1185" fill="#e0201a">Spinal cord</text>
<text x="460" y="1208" fill="#e0201a">Cerebellum</text>
<text x="460" y="1231" fill="#f08c00">Dorsal root</text>
<text x="460" y="1254" fill="#f08c00">Trigeminal neuron</text>
<text x="460" y="1277" fill="#f08c00">Colonic neuron</text>
<text x="460" y="1300" fill="#1a20c0">Heart</text>
<text x="460" y="1323" fill="#1a20c0">Intestine</text>
<text x="460" y="1346" fill="#1a20c0">Liver</text>
<text x="460" y="1369" fill="#1a20c0">Kidney</text>
<text x="460" y="1392" fill="#1a20c0">Lung</text>
<text x="460" y="1415" fill="#1a20c0">Spleen</text>
</g>
<g font-size="22.5" text-anchor="end">
<text transform="translate(149,1425) rotate(-90)" fill="#e0201a">Forebrain</text>
<text transform="translate(172,1425) rotate(-90)" fill="#e0201a">Neural tube</text>
<text transform="translate(195,1425) rotate(-90)" fill="#e0201a">Mortor neuron</text>
<text transform="translate(218,1425) rotate(-90)" fill="#e0201a">Spinal cord</text>
<text transform="translate(241,1425) rotate(-90)" fill="#e0201a">Cerebellum</text>
<text transform="translate(264,1425) rotate(-90)" fill="#f08c00">Dorsal root</text>
<text transform="translate(287,1425) rotate(-90)" fill="#f08c00">Trigeminal</text>
<text transform="translate(310,1425) rotate(-90)" fill="#f08c00">Colonic</text>
<text transform="translate(333,1425) rotate(-90)" fill="#1a20c0">Heart</text>
<text transform="translate(356,1425) rotate(-90)" fill="#1a20c0">Intestine</text>
<text transform="translate(379,1425) rotate(-90)" fill="#1a20c0">Liver</text>
<text transform="translate(402,1425) rotate(-90)" fill="#1a20c0">Kidney</text>
<text transform="translate(425,1425) rotate(-90)" fill="#1a20c0">Lung</text>
<text transform="translate(448,1425) rotate(-90)" fill="#1a20c0">Spleen</text>
</g>
<text x="590" y="1382" text-anchor="end" font-size="22">-18</text>
<text x="590" y="1439" text-anchor="end" font-size="22">-3</text>
<text x="590" y="1496" text-anchor="end" font-size="22">0</text>
<text transform="translate(634,1432) rotate(-90)" text-anchor="middle" font-size="23.5">Log<tspan font-size="15" dy="6">10</tspan><tspan dy="-6"> </tspan><tspan font-style="italic">P</tspan>-value</text>

<text x="1040" y="1024" text-anchor="middle">Intergenic length (Human)</text>
<text x="973" y="1072" text-anchor="middle" fill="#e0201a">CNS</text>
<text x="1135" y="1072" text-anchor="middle" fill="#1a20c0">Non-neural</text>
<g stroke="#000" stroke-width="2.5">
<line x1="882" y1="1082" x2="1062" y2="1082"/><line x1="1070" y1="1082" x2="1200" y2="1082"/>
<line x1="866" y1="1097" x2="866" y2="1277"/><line x1="866" y1="1290" x2="866" y2="1415"/>
<line x1="1328" y1="1237" x2="1328" y2="1278" stroke-width="2"/>
</g>
<text x="817" y="1189" text-anchor="middle">Human</text>
<text x="817" y="1217" text-anchor="middle" fill="#e0201a">CNS</text>
<text x="827" y="1347" text-anchor="middle" fill="#1a20c0">Non-</text>
<text x="827" y="1373" text-anchor="middle" fill="#1a20c0">neural</text>
<g font-size="22">
<text x="1212" y="1113" fill="#e0201a">Cortex</text>
<text x="1212" y="1136" fill="#e0201a">Cerebellum</text>
<text x="1212" y="1159" fill="#e0201a">Spinal cord</text>
<text x="1212" y="1182" fill="#e0201a">Excitatory neurons</text>
<text x="1212" y="1205" fill="#e0201a">ESC-derived neurons</text>
<text x="1212" y="1228" fill="#e0201a">Neural crest</text>
<text x="1212" y="1251" fill="#d030d0">Astrocytes</text>
<text x="1212" y="1274" fill="#d030d0">Microglia</text>
<text x="1212" y="1297" fill="#1a20c0">Colon</text>
<text x="1212" y="1320" fill="#1a20c0">Liver</text>
<text x="1212" y="1343" fill="#1a20c0">Lung</text>
<text x="1212" y="1366" fill="#1a20c0">Testis</text>
<text x="1212" y="1389" fill="#1a20c0">Fibroblast</text>
<text x="1212" y="1412" fill="#1a20c0">B cells</text>
<text x="1336" y="1255" fill="#d030d0">Glial</text>
<text x="1336" y="1278" fill="#d030d0">cells</text>
</g>
<g font-size="22.5" text-anchor="end">
<text transform="translate(900,1425) rotate(-90)" fill="#e0201a">Cortex</text>
<text transform="translate(923,1425) rotate(-90)" fill="#e0201a">Cerebellum</text>
<text transform="translate(946,1425) rotate(-90)" fill="#e0201a">Spinal cord</text>
<text transform="translate(969,1425) rotate(-90)" fill="#e0201a">Excitatory</text>
<text transform="translate(992,1425) rotate(-90)" fill="#e0201a">ESC neuron</text>
<text transform="translate(1015,1425) rotate(-90)" fill="#e0201a">Neural crest</text>
<text transform="translate(1038,1425) rotate(-90)" fill="#d030d0">Astrocytes</text>
<text transform="translate(1061,1425) rotate(-90)" fill="#d030d0">Microglia</text>
<text transform="translate(1084,1425) rotate(-90)" fill="#1a20c0">Colon</text>
<text transform="translate(1107,1425) rotate(-90)" fill="#1a20c0">Liver</text>
<text transform="translate(1130,1425) rotate(-90)" fill="#1a20c0">Lung</text>
<text transform="translate(1153,1425) rotate(-90)" fill="#1a20c0">Testis</text>
<text transform="translate(1176,1425) rotate(-90)" fill="#1a20c0">Fibroblast</text>
<text transform="translate(1199,1425) rotate(-90)" fill="#1a20c0">B cells</text>
</g>
<text x="1350" y="1382" text-anchor="end" font-size="22">-20</text>
<text x="1350" y="1439" text-anchor="end" font-size="22">-4</text>
<text x="1350" y="1496" text-anchor="end" font-size="22">0</text>
<text transform="translate(1394,1432) rotate(-90)" text-anchor="middle" font-size="23.5">Log<tspan font-size="15" dy="6">10</tspan><tspan dy="-6"> </tspan><tspan font-style="italic">P</tspan>-value</text>
</g>
</svg>

<div class="hm" style="left:176px;top:1488px">
<b class="g"></b><b class="c"></b><b class="q"></b><b class="t"></b><b class="r"></b><b class="k"></b><b class="v"></b><b class="t"></b><b class="D"></b><b class="Y"></b><b class="Y"></b><b class="E"></b><b class="Y"></b><b class="Y"></b>
<b class="c"></b><b class="g"></b><b class="r"></b><b class="u"></b><b class="s"></b><b class="v"></b><b class="w"></b><b class="u"></b><b class="E"></b><b class="Y"></b><b class="Y"></b><b class="Y"></b><b class="Y"></b><b class="Y"></b>
<b class="q"></b><b class="r"></b><b class="g"></b><b class="p"></b><b class="c"></b><b class="s"></b><b class="u"></b><b class="p"></b><b class="C"></b><b class="E"></b><b class="Y"></b><b class="E"></b><b class="Y"></b><b class="Y"></b>
<b class="t"></b><b class="u"></b><b class="p"></b><b class="g"></b><b class="c"></b><b class="p"></b><b class="q"></b><b class="c"></b><b class="A"></b><b class="C"></b><b class="E"></b><b class="C"></b><b class="D"></b><b class="E"></b>
<b class="r"></b><b class="s"></b><b class="c"></b><b class="c"></b><b class="g"></b><b class="r"></b><b class="t"></b><b class="c"></b><b class="B"></b><b class="D"></b><b class="Y"></b><b class="D"></b><b class="E"></b><b class="E"></b>
<b class="k"></b><b class="v"></b><b class="s"></b><b class="p"></b><b class="r"></b><b class="g"></b><b class="c"></b><b class="p"></b><b class="x"></b><b class="B"></b><b class="D"></b><b class="A"></b><b class="C"></b><b class="C"></b>
<b class="v"></b><b class="w"></b><b class="u"></b><b class="q"></b><b class="t"></b><b class="c"></b><b class="g"></b><b class="r"></b><b class="w"></b><b class="A"></b><b class="D"></b><b class="x"></b><b class="C"></b><b class="C"></b>
<b class="s"></b><b class="u"></b><b class="p"></b><b class="c"></b><b class="c"></b><b class="p"></b><b class="r"></b><b class="g"></b><b class="B"></b><b class="D"></b><b class="Y"></b><b class="D"></b><b class="E"></b><b class="E"></b>
<b class="D"></b><b class="E"></b><b class="C"></b><b class="A"></b><b class="B"></b><b class="x"></b><b class="w"></b><b class="B"></b><b class="g"></b><b class="s"></b><b class="w"></b><b class="r"></b><b class="k"></b><b class="v"></b>
<b class="Y"></b><b class="Y"></b><b class="E"></b><b class="C"></b><b class="D"></b><b class="B"></b><b class="A"></b><b class="D"></b><b class="s"></b><b class="g"></b><b class="t"></b><b class="c"></b><b class="q"></b><b class="r"></b>
<b class="Y"></b><b class="Y"></b><b class="Y"></b><b class="E"></b><b class="Y"></b><b class="D"></b><b class="D"></b><b class="Y"></b><b class="w"></b><b class="t"></b><b class="g"></b><b class="u"></b><b class="p"></b><b class="c"></b>
<b class="E"></b><b class="Y"></b><b class="D"></b><b class="B"></b><b class="C"></b><b class="A"></b><b class="x"></b><b class="C"></b><b class="r"></b><b class="c"></b><b class="t"></b><b class="g"></b><b class="q"></b><b class="s"></b>
<b class="Y"></b><b class="Y"></b><b class="Y"></b><b class="D"></b><b class="E"></b><b class="C"></b><b class="B"></b><b class="E"></b><b class="k"></b><b class="q"></b><b class="p"></b><b class="q"></b><b class="g"></b><b class="c"></b>
<b class="Y"></b><b class="Y"></b><b class="Y"></b><b class="D"></b><b class="E"></b><b class="D"></b><b class="C"></b><b class="E"></b><b class="v"></b><b class="r"></b><b class="c"></b><b class="s"></b><b class="c"></b><b class="g"></b>
</div>

<div class="hm" style="left:1196px;top:1487px">
<b class="g"></b><b class="c"></b><b class="c"></b><b class="q"></b><b class="r"></b><b class="k"></b><b class="w"></b><b class="E"></b><b class="E"></b><b class="D"></b><b class="D"></b><b class="B"></b><b class="D"></b><b class="Y"></b>
<b class="c"></b><b class="g"></b><b class="c"></b><b class="r"></b><b class="s"></b><b class="v"></b><b class="w"></b><b class="E"></b><b class="E"></b><b class="D"></b><b class="D"></b><b class="B"></b><b class="D"></b><b class="Y"></b>
<b class="c"></b><b class="c"></b><b class="g"></b><b class="p"></b><b class="q"></b><b class="k"></b><b class="v"></b><b class="E"></b><b class="E"></b><b class="D"></b><b class="D"></b><b class="A"></b><b class="D"></b><b class="E"></b>
<b class="q"></b><b class="r"></b><b class="p"></b><b class="g"></b><b class="c"></b><b class="r"></b><b class="t"></b><b class="C"></b><b class="C"></b><b class="B"></b><b class="B"></b><b class="x"></b><b class="B"></b><b class="D"></b>
<b class="r"></b><b class="s"></b><b class="q"></b><b class="c"></b><b class="g"></b><b class="q"></b><b class="s"></b><b class="B"></b><b class="B"></b><b class="A"></b><b class="A"></b><b class="w"></b><b class="A"></b><b class="C"></b>
<b class="k"></b><b class="v"></b><b class="k"></b><b class="r"></b><b class="q"></b><b class="g"></b><b class="c"></b><b class="A"></b><b class="A"></b><b class="x"></b><b class="x"></b><b class="k"></b><b class="x"></b><b class="B"></b>
<b class="w"></b><b class="w"></b><b class="v"></b><b class="t"></b><b class="s"></b><b class="c"></b><b class="g"></b><b class="x"></b><b class="x"></b><b class="v"></b><b class="v"></b><b class="t"></b><b class="w"></b><b class="A"></b>
<b class="E"></b><b class="E"></b><b class="E"></b><b class="C"></b><b class="B"></b><b class="A"></b><b class="x"></b><b class="g"></b><b class="c"></b><b class="c"></b><b class="p"></b><b class="t"></b><b class="c"></b><b class="c"></b>
<b class="E"></b><b class="E"></b><b class="E"></b><b class="C"></b><b class="B"></b><b class="A"></b><b class="x"></b><b class="c"></b><b class="g"></b><b class="c"></b><b class="p"></b><b class="t"></b><b class="c"></b><b class="c"></b>
<b class="D"></b><b class="D"></b><b class="D"></b><b class="B"></b><b class="A"></b><b class="x"></b><b class="v"></b><b class="c"></b><b class="c"></b><b class="g"></b><b class="c"></b><b class="q"></b><b class="c"></b><b class="r"></b>
<b class="D"></b><b class="D"></b><b class="D"></b><b class="B"></b><b class="A"></b><b class="x"></b><b class="v"></b><b class="p"></b><b class="p"></b><b class="c"></b><b class="g"></b><b class="q"></b><b class="c"></b><b class="s"></b>
<b class="B"></b><b class="B"></b><b class="A"></b><b class="x"></b><b class="w"></b><b class="k"></b><b class="t"></b><b class="t"></b><b class="t"></b><b class="q"></b><b class="q"></b><b class="g"></b><b class="q"></b><b class="k"></b>
<b class="D"></b><b class="D"></b><b class="D"></b><b class="B"></b><b class="A"></b><b class="x"></b><b class="w"></b><b class="c"></b><b class="c"></b><b class="c"></b><b class="c"></b><b class="q"></b><b class="g"></b><b class="q"></b>
<b class="Y"></b><b class="Y"></b><b class="E"></b><b class="D"></b><b class="D"></b><b class="C"></b><b class="A"></b><b class="c"></b><b class="c"></b><b class="s"></b><b class="s"></b><b class="k"></b><b class="r"></b><b class="g"></b>
</div>
</body></html>
